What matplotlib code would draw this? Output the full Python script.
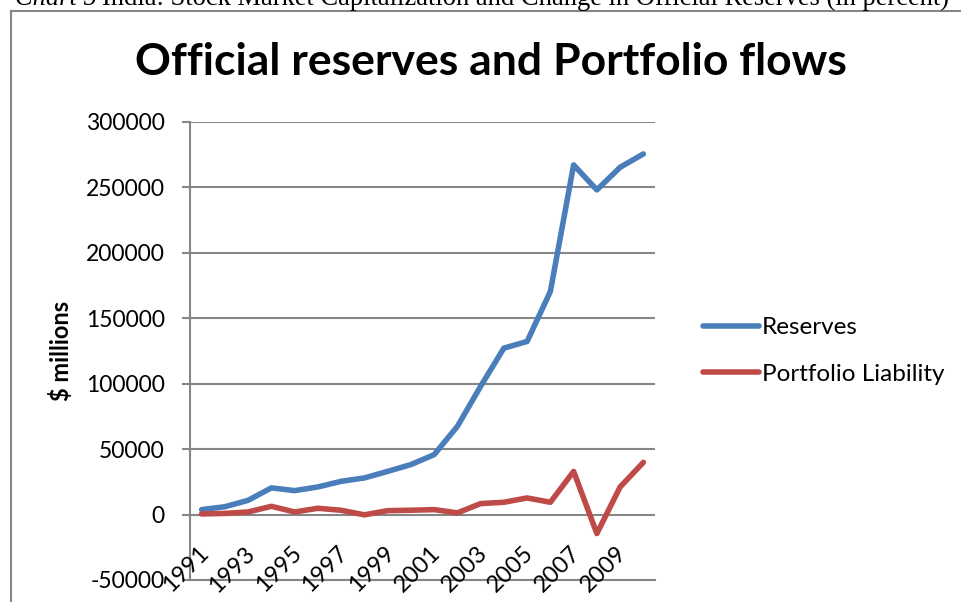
import numpy as np
import matplotlib
matplotlib.use("Agg")
import matplotlib.pyplot as plt
import matplotlib.transforms as mtransforms

plt.rcParams["axes.unicode_minus"] = False

# India: official reserves and portfolio liabilities, $ millions
years = list(range(1991, 2011))
reserves = [3800, 6000, 10900, 20400, 18300, 21100, 25400, 28000, 33000, 38200,
            45800, 67400, 98000, 127200, 132300, 170500, 267200, 248100, 265400, 275600]
portfolio = [500, 900, 2000, 6300, 2000, 4800, 3300, -200, 3000, 3300,
             3800, 1300, 8400, 9400, 12700, 9400, 33000, -14500, 21100, 39900]
tick_years = years[::2]

BLUE = "#4A7EBB"
RED = "#BE4B48"
GREY = "#868686"
FONT = "Lato"

W, H = 961, 602
fig = plt.figure(figsize=(W / 100, H / 100), dpi=100)


def fx(px):
    return px / W


def fy(py):
    return 1 - py / H


# caption line above the chart box (runs off the top of the page)
cap1 = fig.text(fx(15), fy(5), "Chart 5", family="Liberation Serif", style="italic",
                fontsize=19.1, va="baseline", ha="left")
renderer = fig.canvas.get_renderer()
bb = cap1.get_window_extent(renderer)
fig.text(bb.x1 / W + fx(5), fy(5),
         "India: Stock Market Capitalization and Change in Official Reserves (in percent)",
         family="Liberation Serif", fontsize=19.1, va="baseline", ha="left")

# chart box border (left and top edges)
fig.add_artist(plt.Line2D([fx(11), fx(11)], [fy(11), 0], color=GREY, lw=1.5))
fig.add_artist(plt.Line2D([fx(11), 1], [fy(11), fy(11)], color=GREY, lw=1.5))

ax = fig.add_axes([fx(190), fy(580), fx(655) - fx(190), fy(122) - fy(580)])
x = np.arange(len(years))
ax.plot(x, reserves, color=BLUE, lw=4, solid_capstyle="round",
        solid_joinstyle="round", label="Reserves", zorder=3)
ax.plot(x, portfolio, color=RED, lw=4, solid_capstyle="round",
        solid_joinstyle="round", label="Portfolio Liability", zorder=3)

ax.set_xlim(-0.5, len(years) - 0.5)
ax.set_ylim(-50000, 300000)
ax.set_yticks(np.arange(-50000, 300001, 50000))
ax.yaxis.grid(True, color=GREY, lw=1.5)
ax.set_axisbelow(True)
for side in ("top", "right"):
    ax.spines[side].set_visible(False)
for side in ("left", "bottom"):
    ax.spines[side].set_color(GREY)
    ax.spines[side].set_linewidth(1.5)
ax.tick_params(axis="y", color=GREY, width=1.5, length=6, labelsize=16.5, pad=12)
for lab in ax.get_yticklabels():
    lab.set_family(FONT)
ax.set_xticks([])

# category labels hang off the zero line
off = mtransforms.offset_copy(ax.transData, fig=fig, x=-4, y=-28, units="dots")
for yr in tick_years:
    i = years.index(yr)
    ax.text(i, 0, str(yr), transform=off, rotation=45, rotation_mode="anchor",
            ha="right", va="top", fontsize=17, family=FONT)

ax.set_ylabel("$ millions", fontsize=17, fontweight="bold", family=FONT, labelpad=9)

fig.text(fx(491), fy(62), "Official reserves and Portfolio flows", ha="center",
         va="center", fontsize=32, fontweight="bold", family=FONT)

fig.legend(loc="center left", bbox_to_anchor=(fx(681), fy(351)), frameon=False,
           prop={"family": FONT, "size": 17.5}, handlelength=2.3, handletextpad=0.12,
           labelspacing=1.05)

fig.savefig("out.png", dpi=100)
